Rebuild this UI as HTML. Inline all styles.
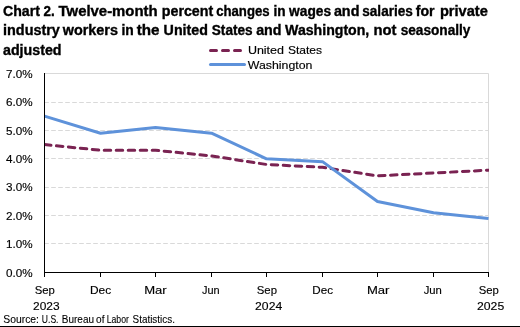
<!DOCTYPE html>
<html><head><meta charset="utf-8"><style>
html,body{margin:0;padding:0;background:#fff;}
body{width:520px;height:327px;overflow:hidden;position:relative;}
svg{position:absolute;left:0;top:0;display:block;will-change:transform;}
text{font-family:"Liberation Sans",sans-serif;}
.t{font-weight:bold;font-size:14px;fill:#000;stroke:#000;stroke-width:0.35px;}
.ax{font-size:11.5px;fill:#000;stroke:#000;stroke-width:0.15px;}
.lg{font-size:11.5px;fill:#000;stroke:#000;stroke-width:0.15px;}
.src{font-size:10.5px;fill:#000;stroke:#000;stroke-width:0.1px;}
</style></head><body>
<svg width="520" height="327" viewBox="0 0 520 327">
<rect x="0" y="0" width="520" height="327" fill="#fff"/>
<text class="t" x="3.00" y="15.6" textLength="36.90" lengthAdjust="spacingAndGlyphs">Chart</text>
<text class="t" x="43.50" y="15.6" textLength="11.20" lengthAdjust="spacingAndGlyphs">2.</text>
<text class="t" x="58.60" y="15.6" textLength="99.00" lengthAdjust="spacingAndGlyphs">Twelve-month</text>
<text class="t" x="161.80" y="15.6" textLength="51.40" lengthAdjust="spacingAndGlyphs">percent</text>
<text class="t" x="216.20" y="15.6" textLength="53.40" lengthAdjust="spacingAndGlyphs">changes</text>
<text class="t" x="273.60" y="15.6" textLength="12.10" lengthAdjust="spacingAndGlyphs">in</text>
<text class="t" x="289.10" y="15.6" textLength="42.00" lengthAdjust="spacingAndGlyphs">wages</text>
<text class="t" x="333.90" y="15.6" textLength="25.50" lengthAdjust="spacingAndGlyphs">and</text>
<text class="t" x="362.30" y="15.6" textLength="50.50" lengthAdjust="spacingAndGlyphs">salaries</text>
<text class="t" x="415.70" y="15.6" textLength="18.80" lengthAdjust="spacingAndGlyphs">for</text>
<text class="t" x="439.90" y="15.6" textLength="47.90" lengthAdjust="spacingAndGlyphs">private</text>
<text class="t" x="3.00" y="35.2" textLength="56.90" lengthAdjust="spacingAndGlyphs">industry</text>
<text class="t" x="62.70" y="35.2" textLength="55.20" lengthAdjust="spacingAndGlyphs">workers</text>
<text class="t" x="121.50" y="35.2" textLength="12.30" lengthAdjust="spacingAndGlyphs">in</text>
<text class="t" x="136.70" y="35.2" textLength="22.80" lengthAdjust="spacingAndGlyphs">the</text>
<text class="t" x="163.60" y="35.2" textLength="44.30" lengthAdjust="spacingAndGlyphs">United</text>
<text class="t" x="211.80" y="35.2" textLength="40.80" lengthAdjust="spacingAndGlyphs">States</text>
<text class="t" x="256.20" y="35.2" textLength="25.30" lengthAdjust="spacingAndGlyphs">and</text>
<text class="t" x="285.10" y="35.2" textLength="84.20" lengthAdjust="spacingAndGlyphs">Washington,</text>
<text class="t" x="373.50" y="35.2" textLength="23.00" lengthAdjust="spacingAndGlyphs">not</text>
<text class="t" x="400.70" y="35.2" textLength="69.70" lengthAdjust="spacingAndGlyphs">seasonally</text>
<text class="t" x="3.00" y="54.7" textLength="58.50" lengthAdjust="spacingAndGlyphs">adjusted</text>

<line x1="44.2" y1="243.50" x2="488" y2="243.50" stroke="#d9d9d9" stroke-width="1" stroke-dasharray="4.6 2.4"/>
<line x1="44.2" y1="215.50" x2="488" y2="215.50" stroke="#d9d9d9" stroke-width="1" stroke-dasharray="4.6 2.4"/>
<line x1="44.2" y1="187.50" x2="488" y2="187.50" stroke="#d9d9d9" stroke-width="1" stroke-dasharray="4.6 2.4"/>
<line x1="44.2" y1="158.50" x2="488" y2="158.50" stroke="#d9d9d9" stroke-width="1" stroke-dasharray="4.6 2.4"/>
<line x1="44.2" y1="130.50" x2="488" y2="130.50" stroke="#d9d9d9" stroke-width="1" stroke-dasharray="4.6 2.4"/>
<line x1="44.2" y1="102.50" x2="488" y2="102.50" stroke="#d9d9d9" stroke-width="1" stroke-dasharray="4.6 2.4"/>
<line x1="44.5" y1="73.5" x2="488.5" y2="73.5" stroke="#d9d9d9" stroke-width="1"/>
<line x1="488.5" y1="73.5" x2="488.5" y2="272" stroke="#d9d9d9" stroke-width="1"/>
<defs><clipPath id="pc"><rect x="44" y="60" width="445" height="230"/></clipPath></defs>
<g clip-path="url(#pc)">
<polyline points="44.50,144.57 100.50,150.26 155.50,150.26 211.50,155.94 266.50,164.47 322.50,167.31 377.50,175.84 433.50,173.00 488.50,170.16" fill="none" stroke="#7a2352" stroke-width="3.0" stroke-dasharray="6.5 5.5" stroke-linecap="round" stroke-linejoin="round"/>
<polyline points="44.50,116.14 100.50,133.20 155.50,127.51 211.50,133.20 266.50,158.79 322.50,161.63 377.50,201.43 433.50,212.80 488.50,218.49" fill="none" stroke="#5e92da" stroke-width="3" stroke-linejoin="round"/>
</g>
<line x1="44.5" y1="73" x2="44.5" y2="277" stroke="#000" stroke-width="1"/>
<line x1="44" y1="272.5" x2="489" y2="272.5" stroke="#000" stroke-width="1"/>
<line x1="44.50" y1="272" x2="44.50" y2="277" stroke="#000" stroke-width="1"/>
<line x1="100.50" y1="272" x2="100.50" y2="277" stroke="#000" stroke-width="1"/>
<line x1="155.50" y1="272" x2="155.50" y2="277" stroke="#000" stroke-width="1"/>
<line x1="211.50" y1="272" x2="211.50" y2="277" stroke="#000" stroke-width="1"/>
<line x1="266.50" y1="272" x2="266.50" y2="277" stroke="#000" stroke-width="1"/>
<line x1="322.50" y1="272" x2="322.50" y2="277" stroke="#000" stroke-width="1"/>
<line x1="377.50" y1="272" x2="377.50" y2="277" stroke="#000" stroke-width="1"/>
<line x1="433.50" y1="272" x2="433.50" y2="277" stroke="#000" stroke-width="1"/>
<line x1="488.50" y1="272" x2="488.50" y2="277" stroke="#000" stroke-width="1"/>
<text x="6.10" y="276.80" class="ax" textLength="26.6" lengthAdjust="spacingAndGlyphs">0.0%</text>
<text x="6.10" y="247.80" class="ax" textLength="26.6" lengthAdjust="spacingAndGlyphs">1.0%</text>
<text x="6.10" y="219.80" class="ax" textLength="26.6" lengthAdjust="spacingAndGlyphs">2.0%</text>
<text x="6.10" y="190.80" class="ax" textLength="26.6" lengthAdjust="spacingAndGlyphs">3.0%</text>
<text x="6.10" y="162.80" class="ax" textLength="26.6" lengthAdjust="spacingAndGlyphs">4.0%</text>
<text x="6.10" y="134.80" class="ax" textLength="26.6" lengthAdjust="spacingAndGlyphs">5.0%</text>
<text x="6.10" y="105.80" class="ax" textLength="26.6" lengthAdjust="spacingAndGlyphs">6.0%</text>
<text x="6.10" y="77.80" class="ax" textLength="26.6" lengthAdjust="spacingAndGlyphs">7.0%</text>
<text x="34.80" y="294" class="ax" textLength="20.10" lengthAdjust="spacingAndGlyphs">Sep</text>
<text x="89.90" y="294" class="ax" textLength="21.20" lengthAdjust="spacingAndGlyphs">Dec</text>
<text x="144.20" y="294" class="ax" textLength="22.50" lengthAdjust="spacingAndGlyphs">Mar</text>
<text x="202.00" y="294" class="ax" textLength="17.60" lengthAdjust="spacingAndGlyphs">Jun</text>
<text x="256.80" y="294" class="ax" textLength="20.20" lengthAdjust="spacingAndGlyphs">Sep</text>
<text x="312.30" y="294" class="ax" textLength="20.70" lengthAdjust="spacingAndGlyphs">Dec</text>
<text x="366.90" y="294" class="ax" textLength="22.50" lengthAdjust="spacingAndGlyphs">Mar</text>
<text x="423.70" y="294" class="ax" textLength="18.20" lengthAdjust="spacingAndGlyphs">Jun</text>
<text x="478.70" y="294" class="ax" textLength="20.10" lengthAdjust="spacingAndGlyphs">Sep</text>
<text x="33.10" y="309.7" class="ax" textLength="26.50" lengthAdjust="spacingAndGlyphs">2023</text>
<text x="255.10" y="309.7" class="ax" textLength="27.10" lengthAdjust="spacingAndGlyphs">2024</text>
<text x="477.00" y="309.7" class="ax" textLength="27.20" lengthAdjust="spacingAndGlyphs">2025</text>
<line x1="210.5" y1="50.4" x2="241.5" y2="50.4" stroke="#7a2352" stroke-width="3.0" stroke-dasharray="6 6" stroke-linecap="round"/>
<line x1="210.5" y1="64.4" x2="244.5" y2="64.4" stroke="#5e92da" stroke-width="3" stroke-linecap="round"/>
<text class="lg" x="247.9" y="53.8" textLength="36.1" lengthAdjust="spacingAndGlyphs">United</text>
<text class="lg" x="287.9" y="53.8" textLength="34.1" lengthAdjust="spacingAndGlyphs">States</text>
<text class="lg" x="247.8" y="68.9" textLength="64.6" lengthAdjust="spacingAndGlyphs">Washington</text>
<text class="src" x="3.30" y="322.7" textLength="35.70" lengthAdjust="spacingAndGlyphs">Source:</text>
<text class="src" x="41.80" y="322.7" textLength="16.70" lengthAdjust="spacingAndGlyphs">U.S.</text>
<text class="src" x="61.80" y="322.7" textLength="32.20" lengthAdjust="spacingAndGlyphs">Bureau</text>
<text class="src" x="96.10" y="322.7" textLength="8.40" lengthAdjust="spacingAndGlyphs">of</text>
<text class="src" x="106.70" y="322.7" textLength="22.20" lengthAdjust="spacingAndGlyphs">Labor</text>
<text class="src" x="132.60" y="322.7" textLength="42.30" lengthAdjust="spacingAndGlyphs">Statistics.</text>

<rect x="0" y="326" width="520" height="1" fill="#000"/>
</svg>
</body></html>
